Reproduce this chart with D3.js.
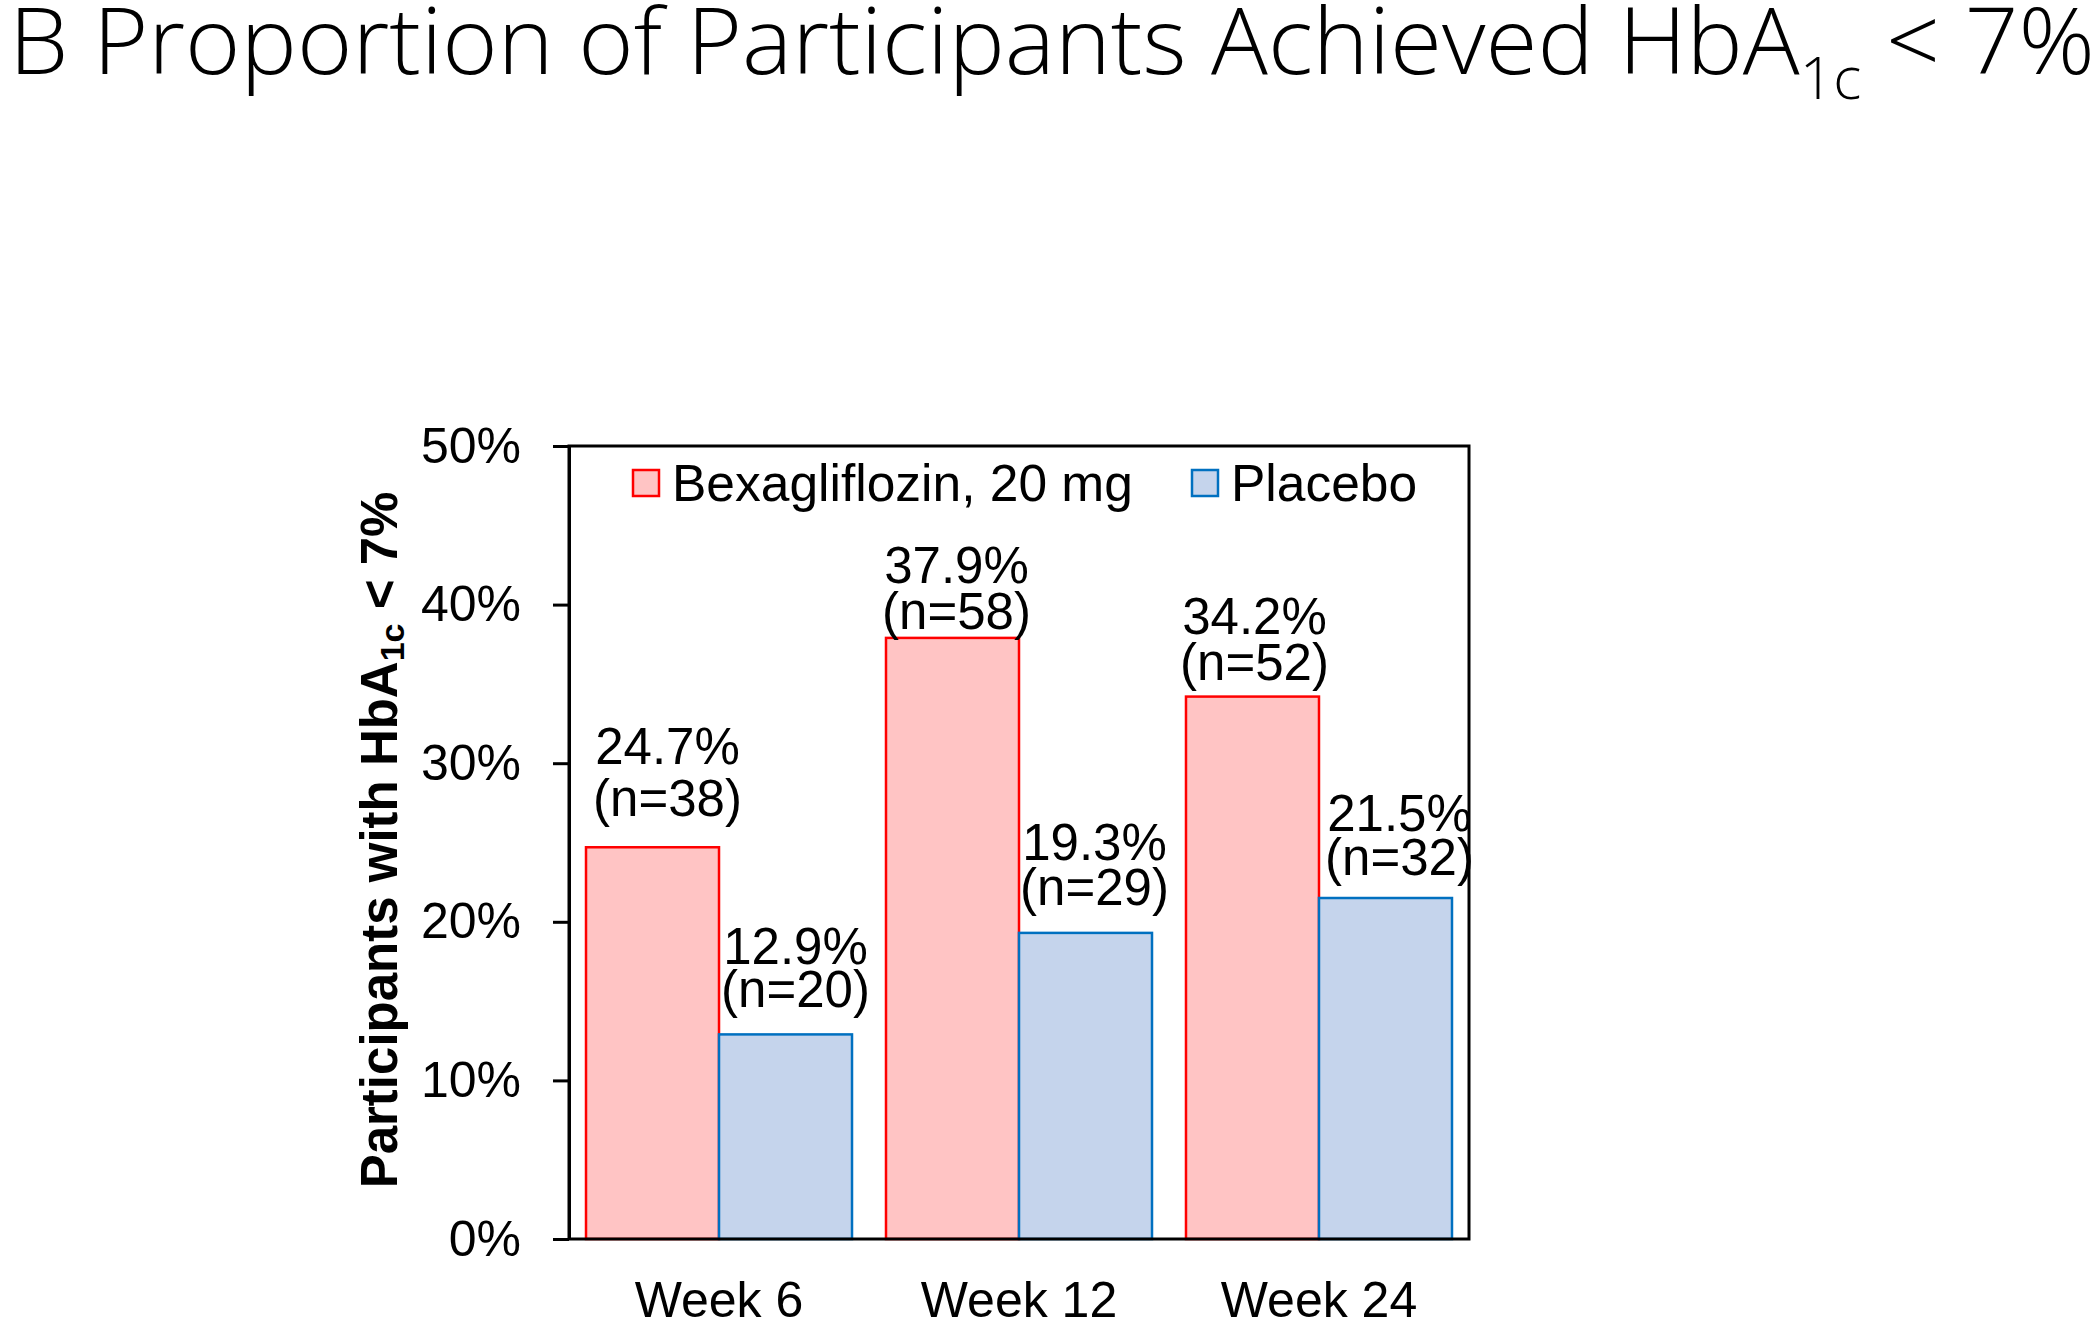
<!DOCTYPE html>
<html>
<head>
<meta charset="utf-8">
<script src="https://cdn.jsdelivr.net/npm/d3@7"></script>
<style>
  html, body { margin: 0; padding: 0; background: #fff; }
  svg { display: block; }
</style>
</head>
<body>
<svg id="chart" width="2100" height="1318"></svg>
<script>
// ---- data ----
const categories = ["Week 6", "Week 12", "Week 24"];
const seriesNames = ["Bexagliflozin, 20 mg", "Placebo"];
const bexValues = [24.7, 37.9, 34.2];
const placeboValues = [12.9, 19.3, 21.5];
const bexN = [38, 58, 52];
const placeboN = [20, 29, 32];
const yTicks = [0, 10, 20, 30, 40, 50];

// ---- layout / style (not data) ----
const seriesFill = ["#FFC4C4", "#C5D4EC"];
const seriesStroke = ["#FF0000", "#0070C0"];
const labelNudge = [
  [{dx: 15, dy: -50, gap: 52}, {dx: 4, dy: -27, gap: 46}, {dx: 2, dy: -35, gap: 46}],
  [{dx: 10, dy: -46, gap: 43}, {dx: 9, dy: -46, gap: 45}, {dx: 14, dy: -41, gap: 44}]
];
const plot = {left: 569, right: 1469, top: 446, bottom: 1239};
const FONT = "'Liberation Sans', Arial, sans-serif";

const svg = d3.select("#chart");

// title
const title = svg.append("text")
  .attr("x", 9).attr("y", 74)
  .attr("font-family", "'Open Sans', 'Noto Sans', sans-serif")
  .attr("font-weight", 300)
  .attr("font-size", 93)
  .attr("fill", "#000")
  .attr("textLength", 2086)
  .attr("lengthAdjust", "spacingAndGlyphs");
title.append("tspan").text("B Proportion of Participants Achieved HbA");
title.append("tspan").attr("font-size", 58).attr("dy", 25).text("1c");
title.append("tspan").attr("dy", -25).text(" < 7%");

// scales
const x0 = d3.scaleBand().domain(categories)
  .range([plot.left, plot.right]).paddingInner(0.1133).paddingOuter(0.0567);
const x1 = d3.scaleBand().domain(seriesNames).range([0, x0.bandwidth()]);
const y = d3.scaleLinear().domain([0, 50]).range([plot.bottom, plot.top]);

const series = [bexValues, placeboValues];
const ns = [bexN, placeboN];

// bars
series.forEach((vals, si) => {
  svg.append("g").selectAll("rect")
    .data(vals)
    .join("rect")
    .attr("x", (d, i) => x0(categories[i]) + x1(seriesNames[si]))
    .attr("y", d => y(d))
    .attr("width", x1.bandwidth())
    .attr("height", d => y(0) - y(d))
    .attr("fill", seriesFill[si])
    .attr("stroke", seriesStroke[si])
    .attr("stroke-width", 2.5);
});

// frame
svg.append("rect")
  .attr("x", plot.left).attr("y", plot.top)
  .attr("width", plot.right - plot.left).attr("height", plot.bottom - plot.top)
  .attr("fill", "none").attr("stroke", "#000").attr("stroke-width", 3);

// y axis
const yAxis = svg.append("g")
  .attr("transform", `translate(${plot.left},0)`)
  .call(d3.axisLeft(y).tickValues(yTicks).tickFormat(d => d + "%")
    .tickSize(16).tickSizeOuter(0).tickPadding(32));
yAxis.select(".domain").attr("stroke", "#000").attr("stroke-width", 3);
yAxis.selectAll(".tick line").attr("stroke", "#000").attr("stroke-width", 3);
yAxis.selectAll(".tick text").attr("font-family", FONT).attr("font-size", 50).attr("fill", "#000");

// x axis
const xAxis = svg.append("g")
  .attr("transform", `translate(0,${plot.bottom})`)
  .call(d3.axisBottom(x0).tickSize(0).tickPadding(42));
xAxis.select(".domain").remove();
xAxis.selectAll(".tick text").attr("font-family", FONT).attr("font-size", 50).attr("fill", "#000");

// y axis title
const yt = svg.append("text")
  .attr("transform", "translate(397,840) rotate(-90)")
  .attr("text-anchor", "middle")
  .attr("font-family", FONT).attr("font-weight", "bold").attr("font-size", 51)
  .attr("fill", "#000");
yt.append("tspan").text("Participants with HbA");
yt.append("tspan").attr("font-size", 34).attr("dy", 7).text("1c");
yt.append("tspan").attr("dy", -7).text(" < 7%");

// data labels (two lines in one text element)
series.forEach((vals, si) => {
  vals.forEach((v, i) => {
    const nd = labelNudge[si][i];
    const cx = x0(categories[i]) + x1(seriesNames[si]) + x1.bandwidth() / 2 + nd.dx;
    const c2 = y(v) + nd.dy;
    const c1 = c2 - nd.gap;
    const fs = 51;
    const t = svg.append("text")
      .attr("text-anchor", "middle").attr("font-family", FONT).attr("font-size", fs)
      .attr("fill", "#000");
    t.append("tspan").attr("x", cx).attr("y", c1 + 0.36 * fs).text(v.toFixed(1) + "%");
    t.append("tspan").attr("x", cx).attr("y", c2 + 0.36 * fs).text("(n=" + ns[si][i] + ")");
  });
});

// legend
const legendX = [633, 1192];
seriesNames.forEach((name, si) => {
  svg.append("rect").attr("x", legendX[si]).attr("y", 470)
    .attr("width", 26).attr("height", 26)
    .attr("fill", seriesFill[si]).attr("stroke", seriesStroke[si]).attr("stroke-width", 2.5);
  svg.append("text").attr("x", legendX[si] + 39).attr("y", 501)
    .attr("font-family", FONT).attr("font-size", 51.5).attr("fill", "#000").text(name);
});
</script>
</body>
</html>
